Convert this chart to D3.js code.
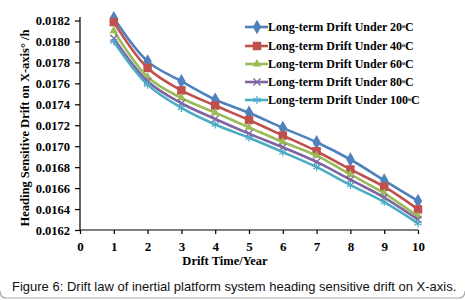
<!DOCTYPE html>
<html><head><meta charset="utf-8">
<script src="https://cdn.jsdelivr.net/npm/d3@7"></script>
<style>body{margin:0;background:#fff}svg{display:block}</style>
</head><body>
<svg id="c" width="465" height="300"></svg>
<script>
const years = [1,2,3,4,5,6,7,8,9,10];
const drift20  = [0.018223,0.01781,0.01762,0.017445,0.01732,0.017175,0.017038,0.016873,0.016673,0.016477];
const drift40  = [0.018185,0.017747,0.017533,0.017388,0.01725,0.017102,0.016952,0.016778,0.016613,0.016397];
const drift60  = [0.018102,0.01766,0.01746,0.01732,0.01718,0.01704,0.01691,0.01673,0.01655,0.01633];
const drift80  = [0.01803,0.01762,0.01741,0.01726,0.01712,0.01699,0.01685,0.01668,0.01651,0.01630];
const drift100 = [0.01800,0.017588,0.017366,0.017207,0.01708,0.016943,0.0168,0.016629,0.016467,0.016264];
const seriesNames = ["Long-term Drift Under 20","Long-term Drift Under 40","Long-term Drift Under 60","Long-term Drift Under 80","Long-term Drift Under 100"];
const xTicks = [0,1,2,3,4,5,6,7,8,9,10];
const yTicks = [0.0162,0.0164,0.0166,0.0168,0.0170,0.0172,0.0174,0.0176,0.0178,0.0180,0.0182];
const caption = "Figure 6: Drift law of inertial platform system heading sensitive drift on X-axis.";

const colors = ["#4F81BD","#C0504D","#9BBB59","#8064A2","#4BACC6"];
const shapes = ["diamond","square","triangle","x","star"];
const allSeries = [drift20,drift40,drift60,drift80,drift100];

const svg = d3.select("#c");
const x = d3.scaleLinear().domain([0,10]).range([80,418]);
const y = d3.scaleLinear().domain([0.0162,0.0182]).range([230,20.5]);
const serif = "'Liberation Serif','Times New Roman',serif";

// axes
const ya = svg.append("g").attr("transform","translate(80,0)")
  .call(d3.axisLeft(y).tickValues(yTicks).tickFormat(d3.format(".4f")).tickSize(5).tickPadding(5));
ya.select(".domain").attr("d","M0,17V230").attr("stroke","#000").attr("stroke-width",1.2);
ya.selectAll(".tick line").attr("stroke","#000").attr("stroke-width",1.2);
ya.selectAll("text").attr("font-family",serif).attr("font-weight","bold").attr("font-size","12.5px").attr("fill","#000");

const xa = svg.append("g").attr("transform","translate(0,230)")
  .call(d3.axisBottom(x).tickValues(xTicks).tickFormat(d3.format("d")).tickSize(4).tickPadding(8));
xa.select(".domain").attr("d","M80,0H418").attr("stroke","#000").attr("stroke-width",1.2);
xa.selectAll(".tick line").attr("stroke","#000").attr("stroke-width",1.2);
xa.selectAll("text").attr("font-family",serif).attr("font-weight","bold").attr("font-size","13px").attr("fill","#000");

// titles
svg.append("text").attr("x",225).attr("y",265).attr("text-anchor","middle")
  .attr("font-family",serif).attr("font-weight","bold").attr("font-size","12.5px").text("Drift Time/Year");
svg.append("text").attr("transform","translate(29,128) rotate(-90)").attr("text-anchor","middle")
  .attr("font-family",serif).attr("font-weight","bold").attr("font-size","12.5px").text("Heading Sensitive Drift on X-axis° /h");

function marker(g, shape, color, cx, cy){
  if(shape==="diamond"){
    g.append("path").attr("d",d3.symbol(d3.symbolDiamond, 60)()).attr("transform",`translate(${cx},${cy})`).attr("fill",color);
  } else if(shape==="square"){
    g.append("path").attr("d",d3.symbol(d3.symbolSquare, 72)()).attr("transform",`translate(${cx},${cy})`).attr("fill",color);
  } else if(shape==="triangle"){
    g.append("path").attr("d",d3.symbol(d3.symbolTriangle, 32)()).attr("transform",`translate(${cx},${cy})`).attr("fill",color);
  } else if(shape==="x"){
    g.append("path").attr("d",d3.symbol(d3.symbolTimes, 35)()).attr("transform",`translate(${cx},${cy})`).attr("fill","none").attr("stroke",color).attr("stroke-width",1.3);
  } else {
    g.append("path").attr("d",d3.symbol(d3.symbolAsterisk, 45)()).attr("transform",`translate(${cx},${cy})`).attr("fill","none").attr("stroke",color).attr("stroke-width",1.2);
  }
}

const line = d3.line().x((d,i)=>x(years[i])).y(d=>y(d)).curve(d3.curveCatmullRom.alpha(0.5));
allSeries.forEach((s,k)=>{
  const g = svg.append("g");
  g.append("path").attr("d",line(s)).attr("fill","none").attr("stroke",colors[k]).attr("stroke-width",2.6);
  s.forEach((v,i)=>marker(g, shapes[k], colors[k], x(years[i]), y(v)));
});

// legend
const legY = [27,46,64,82,100];
seriesNames.forEach((n,k)=>{
  const g = svg.append("g");
  g.append("line").attr("x1",245).attr("x2",268).attr("y1",legY[k]).attr("y2",legY[k]).attr("stroke",colors[k]).attr("stroke-width",2.6);
  marker(g, shapes[k], colors[k], 257, legY[k]);
  const t = g.append("text").attr("x",268).attr("y",legY[k]+4).attr("font-family",serif).attr("font-weight","bold").attr("font-size","12px").attr("fill","#000");
  t.append("tspan").text(n);
  t.append("tspan").attr("font-size","6px").attr("dy","-3").text("o");
  t.append("tspan").attr("dy","3").text("C");
});

// caption
svg.append("text").attr("x",12).attr("y",291).attr("font-family","'Liberation Sans',Arial,sans-serif").attr("font-size","13px").attr("fill","#111").text(caption);
svg.append("path").attr("d","M0,291 Q0,298 7,298 H458 Q465,298 465,291").attr("fill","none").attr("stroke","#aaa").attr("stroke-width",1.2);
</script>
</body></html>
